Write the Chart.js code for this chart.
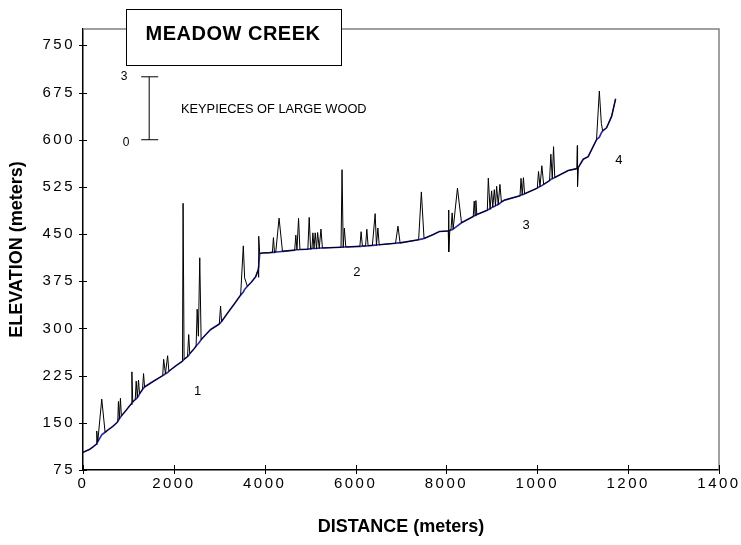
<!DOCTYPE html>
<html>
<head>
<meta charset="utf-8">
<script src="https://cdn.jsdelivr.net/npm/chart.js@4.4.0/dist/chart.umd.min.js"></script>
<style>
body { margin: 0; background: #fff; }
</style>
</head>
<body>
<canvas id="myChart" width="741" height="545"></canvas>
<script>
// Estaciones del perfil: distancia (m), elevación del lecho (m), piezas clave de madera
const stationDist = [0, 150, 228, 292, 303, 325, 413, 486, 559, 650, 744, 765, 780, 800, 824, 845, 950, 1058, 1076, 1095,
  1150, 1171, 1195, 1222, 1245, 1310, 1333, 1355, 1550, 1755, 1775, 1815, 1863, 1890, 2050, 2190, 2203, 2225, 2300, 2327,
  2350, 2450, 2490, 2513, 2540, 2570, 2600, 2700, 2804, 3000, 3028, 3050, 3208, 3350, 3470, 3529, 3558, 3618, 3700, 3800,
  3850, 3866, 3868, 3890, 3950, 4110, 4170, 4192, 4215, 4243, 4316, 4391, 4660, 4685, 4710, 4745, 4775, 4950, 4979, 5010,
  5040, 5061, 5085, 5112, 5140, 5165, 5200, 5238, 5270, 5680, 5702, 5728, 5753, 5785, 6095, 6122, 6150, 6220, 6248, 6275,
  6370, 6431, 6460, 6491, 6520, 6880, 6933, 6980, 7388, 7448, 7507, 7700, 7845, 8040, 8050, 8052, 8075, 8100, 8126, 8148,
  8243, 8332, 8590, 8612, 8630, 8648, 8670, 8900, 8922, 8960, 8995, 9020, 9054, 9080, 9105, 9140, 9178, 9210, 9280, 9620,
  9642, 9668, 9695, 9720, 10000, 10027, 10060, 10100, 10140, 10270, 10299, 10330, 10358, 10385, 10680, 10870, 10882, 10886, 10905, 11011,
  11120, 11304, 11366, 11410, 11440, 11525, 11636, 11724];
const stationElev = [103, 108, 112, 116, 117, 120, 131, 135, 139, 144, 150, 152, 154, 156, 159, 161, 170, 180, 181, 183,
  187, 188, 190, 193, 196, 203, 205, 207, 216, 225, 226, 228, 230, 232, 241, 248, 249, 251, 255, 257,
  260, 268, 272, 274, 276, 279, 282, 290, 298, 307, 309, 311, 327, 341, 353, 358, 362, 367, 373, 382,
  392, 398, 400, 419, 420, 420.5, 421, 421, 421, 421.5, 422, 422.5, 424.5, 425, 425, 425, 425.5, 426, 426.5, 426.5,
  427, 427, 427, 427, 427, 427.5, 427.5, 428, 428, 429, 429, 429, 429.5, 429.5, 430.5, 430.5, 431, 431, 431, 431.5,
  432, 432.5, 432.5, 433, 433, 435.5, 436, 436, 441, 442, 443, 449, 454, 455, 455, 455, 456, 456.5, 457, 458,
  463, 468, 478, 479, 479.5, 480, 481, 488, 489, 490, 492, 493, 494, 495, 496, 497, 499, 501, 504, 511,
  512, 512.5, 513, 514, 523, 524.5, 525.5, 527, 529, 535, 537, 538, 539, 540, 551, 554, 554, 554, 556, 569,
  573, 600, 604, 611, 614, 619, 637, 665];
const keyPieces = [0, 0, 0, 0, 0.6, 0, 1.7, 0, 0, 0, 0, 0, 0.9, 0, 0.9, 0, 0, 0, 1.5, 0,
  0, 0.85, 0, 0.75, 0, 0, 0.7, 0, 0, 0, 0.75, 0, 0.8, 0, 0, 0, 7.5, 0, 0, 1.0,
  0, 0, 0, 1.7, 0.35, 4.0, 0, 0, 0, 0, 0.8, 0, 0, 0, 0, 2.2, 0.55, 0, 0, 0,
  0, -0.5, 1.4, 0, 0, 0, 0, 0.7, 0, 0, 1.6, 0, 0, 0.7, 0, 1.5, 0, 0, 1.5, 0,
  0, 0.75, 0, 0.75, 0, 0.75, 0, 0.9, 0, 0, 3.7, 0, 0.9, 0, 0, 0.7, 0, 0, 0.8, 0,
  0, 1.5, 0, 0.8, 0, 0, 0.8, 0, 0, 2.25, 0, 0, 0, 0, 1.0, -1.0, 0, 0, 0.8, 0,
  1.8, 0, 0, 0.7, 0, 0.7, 0, 0, 1.5, 0, 0.8, 0, 0.8, 0, 0.9, 0, 0.9, 0, 0, 0,
  0.8, 0, 0.8, 0, 0, 0.75, 0, 0.95, 0, 0, 1.2, 0, 1.5, 0, 0, 0, 1.1, -0.85, 0, 0,
  0, 0, 2.2, 0.45, 0, 0, 0, 0];

// Ejes
const xTickValues = [0, 2000, 4000, 6000, 8000, 10000, 12000, 14000];
const xTickLabels = ['0', '2000', '4000', '6000', '8000', '1000', '1200', '1400'];
const yTickValues = [75, 150, 225, 300, 375, 450, 525, 600, 675, 750];

// Tramos
const regionNames = ['1', '2', '3', '4'];
const regionDist = [2524, 6027, 9753, 11795];
const regionElev = [200, 389, 463, 567];

// Barra de escala: 3 piezas = 100 m de elevación
const PIECE_M = 100 / 3;
const legendDist = 1457;
const legendLow = 600;

const FONT = '"Liberation Sans", Arial, sans-serif';

const profile = stationDist.map((d, i) => ({ x: d, y: stationElev[i] }));
const wood = stationDist.map((d, i) => ({ x: d, y: stationElev[i] + keyPieces[i] * PIECE_M }));

const extras = {
    id: 'extras',
    beforeDraw(chart) {
        chart.ctx.letterSpacing = '0px';
    },
    afterDatasetsDraw(chart) {
        // las etiquetas de los ejes (z: 1) se dibujan después, con letras espaciadas
        chart.ctx.letterSpacing = '2.5px';
    },
    afterDraw(chart) {
        const { ctx, chartArea: a, scales: { x, y } } = chart;
        ctx.save();
        ctx.letterSpacing = '0px';
        // marco gris arriba y derecha
        ctx.strokeStyle = '#808080';
        ctx.lineWidth = 1.5;
        ctx.beginPath();
        ctx.moveTo(a.left, a.top); ctx.lineTo(a.right, a.top); ctx.lineTo(a.right, a.bottom);
        ctx.stroke();
        // marcas cruzadas
        ctx.strokeStyle = '#000';
        ctx.lineWidth = 1;
        ctx.beginPath();
        yTickValues.forEach(v => {
            const py = Math.round(y.getPixelForValue(v)) + 0.5;
            ctx.moveTo(a.left - 4, py); ctx.lineTo(a.left + 4, py);
        });
        xTickValues.forEach(v => {
            const px = Math.round(x.getPixelForValue(v)) + 0.5;
            ctx.moveTo(px, a.bottom - 5); ctx.lineTo(px, a.bottom + 4);
        });
        ctx.stroke();
        // caja del título
        ctx.fillStyle = '#fff';
        ctx.fillRect(126, 9, 215, 56);
        ctx.strokeStyle = '#000';
        ctx.strokeRect(126.5, 9.5, 215, 56);
        ctx.fillStyle = '#000';
        ctx.font = 'bold 20px ' + FONT;
        ctx.textAlign = 'center';
        ctx.textBaseline = 'middle';
        ctx.letterSpacing = '0.5px';
        ctx.fillText('MEADOW CREEK', 233, 34);
        ctx.letterSpacing = '0px';
        // barra de escala
        const bx = x.getPixelForValue(legendDist);
        const by0 = y.getPixelForValue(legendLow);
        const by1 = y.getPixelForValue(legendLow + 3 * PIECE_M);
        ctx.beginPath();
        ctx.moveTo(bx, by0); ctx.lineTo(bx, by1);
        ctx.moveTo(bx - 8, by0); ctx.lineTo(bx + 9, by0);
        ctx.moveTo(bx - 8, by1); ctx.lineTo(bx + 9, by1);
        ctx.stroke();
        ctx.font = '12px ' + FONT;
        ctx.fillText('3', bx - 25, by1);
        ctx.fillText('0', bx - 23, by0 + 3);
        ctx.textAlign = 'left';
        ctx.font = '12.8px ' + FONT;
        ctx.fillText('KEYPIECES OF LARGE WOOD', 181, (by0 + by1) / 2 + 1);
        // números de tramo
        ctx.textAlign = 'center';
        ctx.font = '13px ' + FONT;
        regionNames.forEach((t, i) => {
            ctx.fillText(t, x.getPixelForValue(regionDist[i]), y.getPixelForValue(regionElev[i]));
        });
        ctx.restore();
    }
};

const ctx = document.getElementById('myChart').getContext('2d');
const myChart = new Chart(ctx, {
    type: 'scatter',
    data: {
        datasets: [{
            label: 'Madera',
            data: wood,
            showLine: true,
            borderColor: '#000',
            borderWidth: 1,
            pointRadius: 0,
            tension: 0,
            order: 1
        }, {
            label: 'Perfil',
            data: profile,
            showLine: true,
            borderColor: '#2828a8',
            borderWidth: 1.6,
            pointRadius: 0,
            tension: 0,
            order: 2
        }]
    },
    options: {
        responsive: false,
        animation: false,
        layout: { padding: { top: 29, right: 22, left: 0, bottom: 0 } },
        plugins: {
            legend: { display: false },
            tooltip: { enabled: false }
        },
        scales: {
            x: {
                type: 'linear',
                min: 0,
                max: 14000,
                afterBuildTicks: s => { s.ticks = xTickValues.map(v => ({ value: v })); },
                afterFit: s => { s.height = 75; },
                grid: { display: false, drawTicks: false },
                border: { color: '#000', width: 1.5 },
                ticks: {
                    z: 1,
                    padding: 5,
                    color: '#000',
                    autoSkip: false,
                    maxRotation: 0,
                    font: { family: FONT, size: 15 },
                    callback: (v, i) => xTickLabels[i]
                },
                title: {
                    display: true,
                    text: 'DISTANCE (meters)',
                    color: '#000',
                    font: { family: FONT, size: 18, weight: 'bold' },
                    padding: { top: 0, bottom: 7 }
                }
            },
            y: {
                type: 'linear',
                min: 75,
                max: 776,
                afterBuildTicks: s => { s.ticks = yTickValues.map(v => ({ value: v })); },
                afterFit: s => { s.width = 83; },
                grid: { display: false, drawTicks: false },
                border: { color: '#000', width: 1.5 },
                ticks: {
                    z: 1,
                    padding: 8,
                    color: '#000',
                    font: { family: FONT, size: 15 }
                },
                title: {
                    display: true,
                    text: 'ELEVATION (meters)',
                    color: '#000',
                    font: { family: FONT, size: 18, weight: 'bold' },
                    padding: { top: 6, bottom: 0 }
                }
            }
        }
    },
    plugins: [extras]
});
</script>
</body>
</html>
